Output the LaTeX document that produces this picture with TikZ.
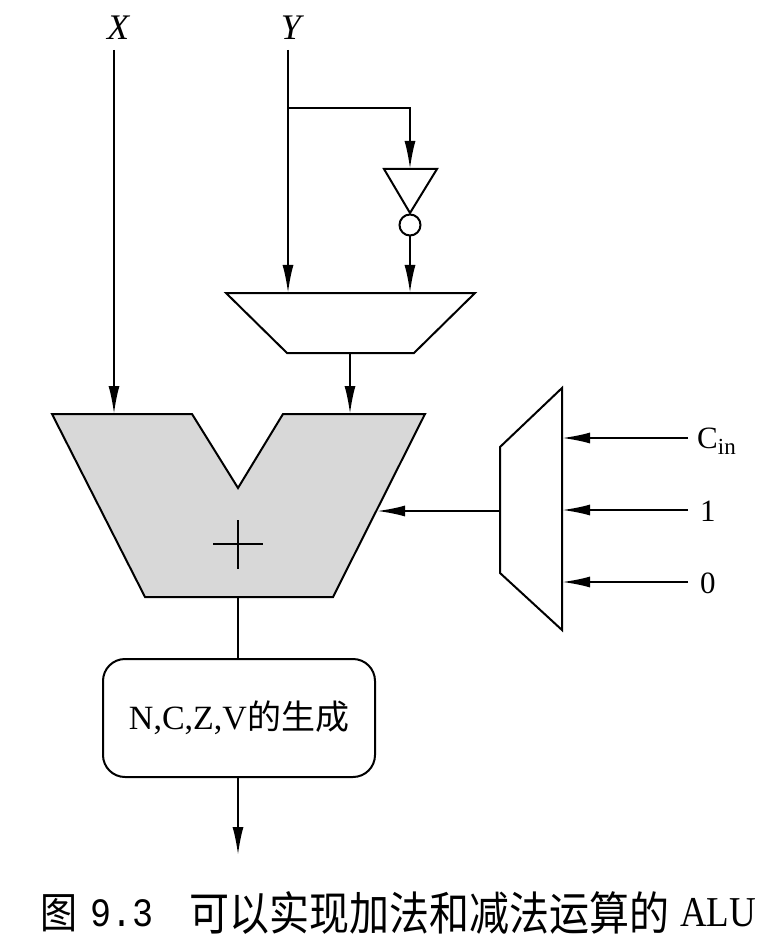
\documentclass[tikz,border=0pt]{standalone}
\usepackage{fontspec}
\setmainfont{Liberation Serif}
\newfontfamily\cjk{Noto Sans CJK SC}
\newfontfamily\monof{Liberation Mono}
\usetikzlibrary{arrows.meta}
\begin{document}
\begin{tikzpicture}[x=1pt,y=-1pt,
  wire/.style={line width=2pt, line join=miter},
  arr/.style={wire, -{Latex[length=28pt,width=11pt]}},
  gate/.style={line width=2pt, line join=miter},
  lab/.style={inner sep=0pt, font=\fontsize{36}{36}\selectfont\itshape},
  inlab/.style={inner sep=0pt, anchor=west, font=\fontsize{31}{31}\selectfont},
  caplab/.style={inner sep=0pt, anchor=west, yscale=1.15},
  flagbox/.style={draw, line width=2pt, rounded corners=22pt, minimum width=272pt, minimum height=118pt, inner sep=0pt, font=\fontsize{34}{34}\selectfont}
]
\useasboundingbox (0,0) rectangle (778,949);
% labels
\node[lab] (xlab) at (118,28) {X};
\node[lab] (ylab) at (291,28) {Y};
% X input
\coordinate (xtop) at (114,50);
\coordinate (xin) at (114,414);
\draw[arr] (xtop) -- (xin);
% Y input
\coordinate (ytop) at (288,50);
\coordinate (ybr) at (288,108);
\coordinate (yin) at (288,293);
\coordinate (ncorner) at (410,108);
\coordinate (ninv) at (410,169);
\draw[arr] (ytop) -- (yin);
\draw[arr] (ybr) -- (ncorner) -- (ninv);
% inverter
\draw[gate] (384,169) -- (437,169) -- (410,213) -- cycle;
\node[draw, circle, line width=2pt, minimum size=21pt, inner sep=0pt] (bub) at (410,225) {};
\coordinate (ninR) at (410,293);
\draw[arr] (bub.south) -- (ninR);
% Y mux
\draw[gate] (226,293) -- (475,293) -- (414,353) -- (287,353) -- cycle;
\coordinate (muxout) at (350,353);
\coordinate (addinR) at (350,414);
\draw[arr] (muxout) -- (addinR);
% adder
\draw[gate, fill={rgb,255:red,216;green,216;blue,216}] (52,414) -- (192,414) -- (238,488) -- (283,414) -- (425,414) -- (333,597) -- (145,597) -- cycle;
\draw[line width=1.8pt] (213,544) -- (263,544) (238,520) -- (238,569);
% carry mux
\draw[gate] (500,447) -- (562,388) -- (562,630) -- (500,573) -- cycle;
\coordinate (cmuxout) at (500,511);
\coordinate (addcin) at (377,511);
\draw[arr] (cmuxout) -- (addcin);
% carry inputs
\node[inlab] (cin) at (697,441) {C\raisebox{-6pt}{\fontsize{23}{23}\selectfont in}};
\node[inlab] (one) at (700,511) {1};
\node[inlab] (zero) at (700,583) {0};
\coordinate (cinS) at (688,438);
\coordinate (oneS) at (688,510);
\coordinate (zeroS) at (688,582);
\coordinate (cinT) at (562,438);
\coordinate (oneT) at (562,510);
\coordinate (zeroT) at (562,582);
\draw[arr] (cinS) -- (cinT);
\draw[arr] (oneS) -- (oneT);
\draw[arr] (zeroS) -- (zeroT);
% flag generation
\coordinate (addout) at (238,597);
\node[flagbox] (flags) at (239,718) {N,C,Z,V{\cjk\fontsize{34}{34}\selectfont 的生成}};
\draw[wire] (addout) -- (flags.north -| addout);
\coordinate (fout) at (238,855);
\draw[arr] (flags.south -| fout) -- (fout);
% caption
\node[caplab] (capfig) at (40,913) {\cjk\fontsize{37}{37}\selectfont 图};
\node[caplab] (capnum) at (90,913) {\monof\fontsize{35}{35}\selectfont 9.3};
\node[caplab] (captext) at (189,913) {\cjk\fontsize{40}{40}\selectfont 可以实现加法和减法运算的};
\node[caplab] (capalu) at (680,913) {\fontsize{37}{37}\selectfont ALU};
\end{tikzpicture}
\end{document}
